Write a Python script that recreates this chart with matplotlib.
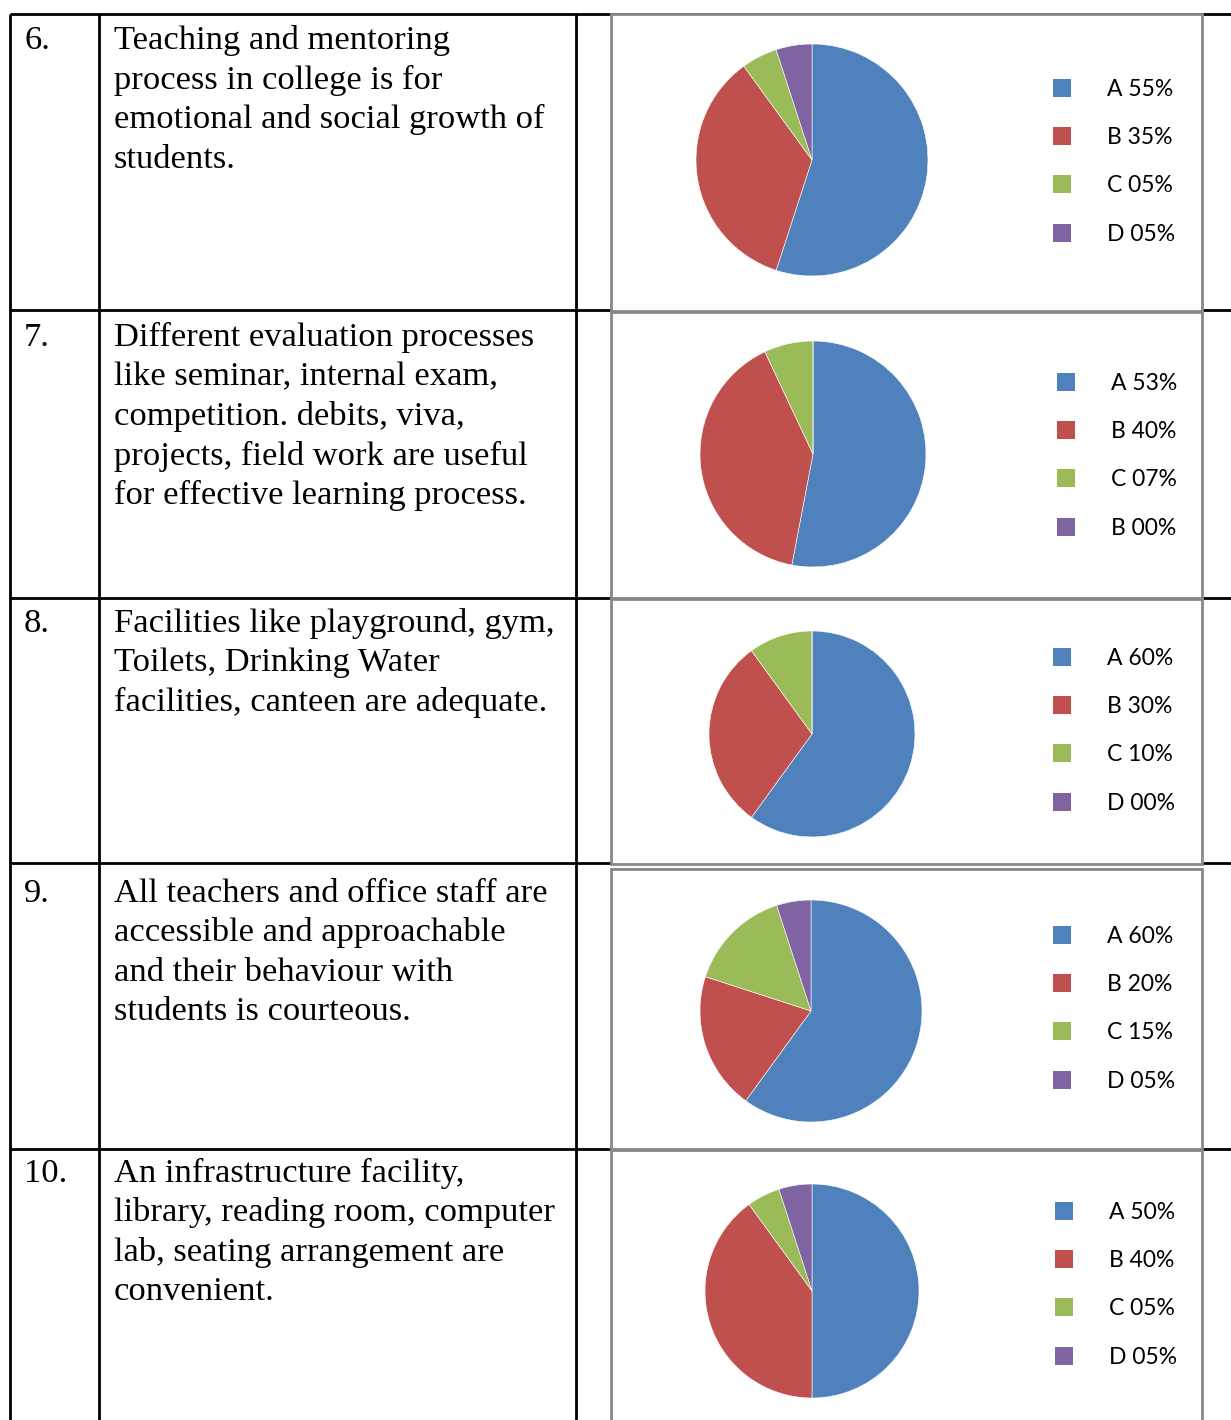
import matplotlib
matplotlib.use('Agg')
import matplotlib.pyplot as plt
from matplotlib.patches import Rectangle

W, H = 1231, 1420

# ---- data ----
item_numbers = ['6.', '7.', '8.', '9.', '10.']
statements = [
    ['Teaching and mentoring', 'process in college is for',
     'emotional and social growth of', 'students.'],
    ['Different evaluation processes', 'like seminar, internal exam,',
     'competition. debits, viva,', 'projects, field work are useful',
     'for effective learning process.'],
    ['Facilities like playground, gym,', 'Toilets, Drinking Water',
     'facilities, canteen are adequate.'],
    ['All teachers and office staff are', 'accessible and approachable',
     'and their behaviour with', 'students is courteous.'],
    ['An infrastructure facility,', 'library, reading room, computer',
     'lab, seating arrangement are', 'convenient.'],
]
share_a = [55, 53, 60, 60, 50]
share_b = [35, 40, 30, 20, 40]
share_c = [5, 7, 10, 15, 5]
share_d = [5, 0, 0, 5, 5]
legend_letters = [
    ['A', 'B', 'C', 'D'],
    ['A', 'B', 'C', 'B'],
    ['A', 'B', 'C', 'D'],
    ['A', 'B', 'C', 'D'],
    ['A', 'B', 'C', 'D'],
]
colors = ['#4F81BD', '#C0504D', '#9BBB59', '#8064A2']

# ---- layout (pixels) ----
row_lines = [14, 310, 598, 863, 1149]
text_baseline = [49, 346, 632, 902, 1182]
line_gap = 39.5
box_x0, box_x1 = 611, 1202
boxes = [(14, 311), (312, 598), (599, 864), (869, 1149), (1150, 1430)]
pie_centers = [(812, 160), (813, 454), (812, 734), (811, 1011), (812, 1291)]
pie_radius = [116, 113, 103, 111, 107]
leg_marker_x = [1062, 1066, 1062, 1062, 1064]
leg_first_y = [88, 382, 657, 935, 1211]
leg_gap = 48.2

fig = plt.figure(figsize=(W / 100, H / 100), dpi=100)
base = fig.add_axes([0, 0, 1, 1])
base.set_xlim(0, W)
base.set_ylim(H, 0)
base.axis('off')

# table grid
for y in row_lines:
    base.plot([10, W], [y, y], color='black', lw=2, solid_capstyle='butt')
for x in [10, 99, 576]:
    base.plot([x, x], [row_lines[0], H], color='black', lw=2, solid_capstyle='butt')

# chart boxes
for (y0, y1) in boxes:
    base.add_patch(Rectangle((box_x0, y0), box_x1 - box_x0, y1 - y0,
                             facecolor='white', edgecolor='#888888', lw=2, zorder=3))

serif = ['Liberation Serif', 'DejaVu Serif']
for i, lines in enumerate(statements):
    base.text(24, text_baseline[i], item_numbers[i], fontsize=24.8, family=serif,
              va='baseline', ha='left')
    for j, line in enumerate(lines):
        base.text(114, text_baseline[i] + j * line_gap, line, fontsize=24.8,
                  family=serif, va='baseline', ha='left')

for i in range(5):
    vals = [share_a[i], share_b[i], share_c[i], share_d[i]]
    cx, cy = pie_centers[i]
    r = pie_radius[i]
    ax = fig.add_axes([(cx - r) / W, 1 - (cy + r) / H, 2 * r / W, 2 * r / H])
    ax.pie(vals, colors=colors, startangle=90, counterclock=False, radius=1,
           wedgeprops=dict(edgecolor='white', linewidth=0.4))
    ax.set_xlim(-1, 1)
    ax.set_ylim(-1, 1)
    ax.set_aspect('auto')
    ax.axis('off')

    # legend
    for k in range(4):
        y = leg_first_y[i] + k * leg_gap
        base.scatter([leg_marker_x[i]], [y], marker='s', s=150, color=colors[k],
                     zorder=5, linewidths=0)
        base.text(leg_marker_x[i] + 45, y + 1.5, '%s %02d%%' % (legend_letters[i][k], vals[k]),
                  fontsize=16.5, family=['Lato', 'DejaVu Sans'], va='center',
                  ha='left', zorder=5)

fig.savefig('out.png', dpi=100)
